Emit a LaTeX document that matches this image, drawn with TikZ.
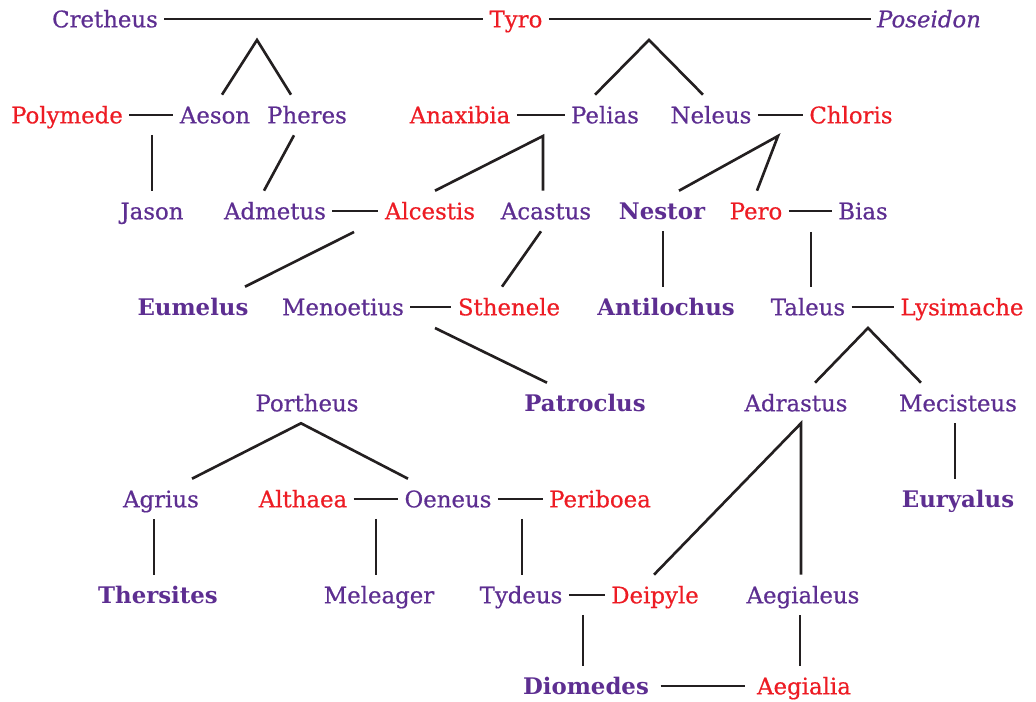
\documentclass[tikz,border=0pt]{standalone}
\usepackage{fontspec}
\setmainfont{DejaVu Serif}[UprightFeatures={FakeBold=0.6},ItalicFeatures={FakeBold=0.6}]
\usepackage{tikz}
\usetikzlibrary{calc}
\definecolor{kinpurple}{RGB}{93,46,145}
\definecolor{kinred}{RGB}{237,28,36}
\definecolor{kinline}{RGB}{35,31,32}
\tikzset{
  person/.style={font=\fontsize{13}{15}\selectfont,text height=9.5pt,text depth=0pt,inner xsep=3.5pt,inner ysep=6.6pt},
  man/.style={person,text=kinpurple},
  woman/.style={person,text=kinred},
  hero/.style={man,font=\fontsize{13}{15}\selectfont\bfseries},
  deity/.style={man,font=\fontsize{13}{15}\selectfont\itshape},
  link/.style={draw=kinline,line width=1.5pt}
}

\begin{document}
\begin{tikzpicture}[x=0.02cm,y=-0.02cm]
			\useasboundingbox (0,0) rectangle (1036,702);
			
			\node[man] (cretheus) at (105,19) {Cretheus};
			\node[woman] (tyro) at (516,19) {Tyro};
			\node[deity] (poseidon) at (929,19) {Poseidon};
			
			\node[woman] (polymede) at (67,115) {Polymede};
			\node[man] (aeson) at (215,115) {Aeson};
			\node[man] (pheres) at (307,115) {Pheres};
			\node[woman] (anaxibia) at (460,115) {Anaxibia};
			\node[man] (pelias) at (605,115) {Pelias};
			\node[man] (neleus) at (711,115) {Neleus};
			\node[woman] (chloris) at (851,115) {Chloris};
			
			\node[man] (jason) at (152,211) {Jason};
			\node[man] (admetus) at (275,211) {Admetus};
			\node[woman] (alcestis) at (430,211) {Alcestis};
			\node[man] (acastus) at (546,211) {Acastus};
			\node[hero] (nestor) at (662,211) {Nestor};
			\node[woman] (pero) at (756,211) {Pero};
			\node[man] (bias) at (863,211) {Bias};
			
			\node[hero] (eumelus) at (193,307) {Eumelus};
			\node[man] (menoetius) at (343,307) {Menoetius};
			\node[woman] (sthenele) at (509,307) {Sthenele};
			\node[hero] (antilochus) at (666,307) {Antilochus};
			\node[man] (taleus) at (808,307) {Taleus};
			\node[woman] (lysimache) at (962,307) {Lysimache};
			
			\node[man] (portheus) at (307,403) {Portheus};
			\node[hero] (patroclus) at (585,403) {Patroclus};
			\node[man] (adrastus) at (796,403) {Adrastus};
			\node[man] (mecisteus) at (958,403) {Mecisteus};
			
			\node[man] (agrius) at (161,499) {Agrius};
			\node[woman] (althaea) at (303,499) {Althaea};
			\node[man] (oeneus) at (448,499) {Oeneus};
			\node[woman] (periboea) at (600,499) {Periboea};
			\node[hero] (euryalus) at (958,499) {Euryalus};
			
			\node[hero] (thersites) at (158,595) {Thersites};
			\node[man] (meleager) at (379,595) {Meleager};
			\node[man] (tydeus) at (521,595) {Tydeus};
			\node[woman] (deipyle) at (655,595) {Deipyle};
			\node[man] (aegialeus) at (803,595) {Aegialeus};
			
			\node[hero] (diomedes) at (586,686) {Diomedes};
			\node[woman] (aegialia) at (804,686) {Aegialia};
			
			\path[link] (cretheus) -- (tyro);
			\path[link] (tyro) -- (poseidon);
			\path[link] (polymede) -- (aeson);
			\path[link] (anaxibia) -- (pelias);
			\path[link] (neleus) -- (chloris);
			\path[link] (admetus) -- (alcestis);
			\path[link] (pero) -- (bias);
			\path[link] (menoetius) -- (sthenele);
			\path[link] (taleus) -- (lysimache);
			\path[link] (althaea) -- (oeneus);
			\path[link] (oeneus) -- (periboea);
			\path[link] (tydeus) -- (deipyle);
			\path[link,shorten <=3pt,shorten >=3pt] (diomedes) -- (aegialia);
			
			\coordinate (j1) at (257,40);
			\coordinate (j2) at (649,40);
			\coordinate (j3) at (152,135);
			\coordinate (j4) at (543,136);
			\coordinate (j5) at (778,136);
			\coordinate (j6) at (354,232);
			\coordinate (j7) at (811,232);
			\coordinate (j8) at (435,328);
			\coordinate (j9) at (868,328);
			\coordinate (j10) at (376,519);
			\coordinate (j11) at (522,519);
			\coordinate (j12) at (583,615);
			
			\path[link] ($(aeson.north)+(7,0)$) -- (j1) -- ($(pheres.north)+(-16,0)$);
			\path[link] ($(pelias.north)+(-10,0)$) -- (j2) -- ($(neleus.north)+(-8,0)$);
			\path[link] (j3) -- (jason);
			\path[link] ($(pheres.south)+(-13,0)$) -- ($(admetus.north)+(-11,0)$);
			\path[link] ($(alcestis.north)+(5,0)$) -- (j4) -- ($(acastus.north)+(-3,0)$);
			\path[link] ($(nestor.north)+(17,0)$) -- (j5) -- ($(pero.north)+(1,0)$);
			\path[link] (j6) -- ($(eumelus.north)+(52,0)$);
			\path[link] ($(acastus.south)+(-5,0)$) -- ($(sthenele.north)+(-7,0)$);
			\path[link] ($(nestor.south)+(1,0)$) -- ($(antilochus.north)+(-3,0)$);
			\path[link] (j7) -- ($(taleus.north)+(3,0)$);
			\path[link] (j8) -- ($(patroclus.north)+(-38,0)$);
			\path[link] ($(adrastus.north)+(19,0)$) -- (j9) -- ($(mecisteus.north)+(-37,0)$);
			\path[link] ($(agrius.north)+(31,0)$) -- ($(portheus.south)+(-6,0)$) -- ($(oeneus.north)+(-40,0)$);
			\path[link] ($(deipyle.north)+(-1,0)$) -- ($(adrastus.south)+(5,0)$) -- ($(aegialeus.north)+(-2,0)$);
			\path[link] ($(mecisteus.south)+(-3,0)$) -- ($(euryalus.north)+(-3,0)$);
			\path[link] ($(agrius.south)+(-7,0)$) -- ($(thersites.north)+(-4,0)$);
			\path[link] (j10) -- ($(meleager.north)+(-3,0)$);
			\path[link] (j11) -- ($(tydeus.north)+(1,0)$);
			\path[link] (j12) -- ($(diomedes.north)+(-3,0)$);
			\path[link] ($(aegialeus.south)+(-3,0)$) -- ($(aegialia.north)+(-4,0)$);

		\end{tikzpicture}
\end{document}
